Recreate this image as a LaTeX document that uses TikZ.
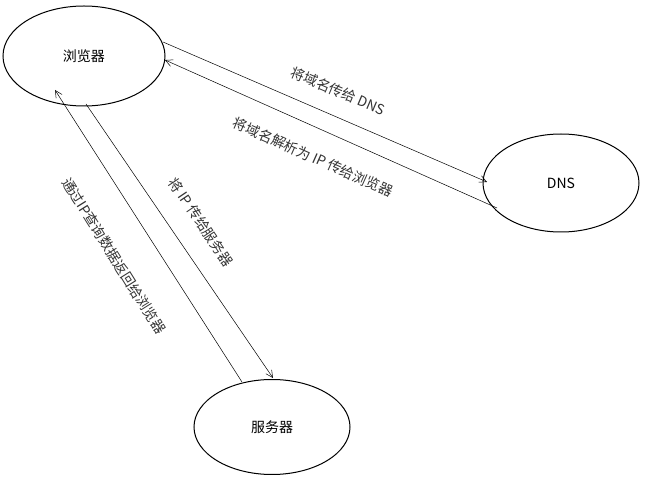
\documentclass[tikz,border=0pt]{standalone}
\usepackage{fontspec}
\setmainfont{Noto Sans CJK SC}
\usetikzlibrary{shapes.geometric,arrows.meta}
\begin{document}
\begin{tikzpicture}[x=1pt,y=-1pt,
  ell/.style={draw,ellipse,line width=1pt,inner sep=0pt,font=\fontsize{14}{16}\selectfont},
  conn/.style={-{Straight Barb[length=7pt,width=7pt]},line width=0.5pt},
  lbl/.style={font=\fontsize{14}{16}\selectfont,text=black!80}]
\useasboundingbox (0,0) rectangle (649,478);
\node[ell,minimum width=162,minimum height=100] (b) at (84,56) {浏览器};
\node[ell,minimum width=156,minimum height=98] (d) at (561,183) {DNS};
\node[ell,minimum width=156,minimum height=95] (s) at (272,427) {服务器};
\coordinate (b1) at (163,42); \coordinate (d1) at (487,182);
\coordinate (d2) at (497,208); \coordinate (b2) at (165,60);
\coordinate (b3) at (86,104); \coordinate (s3) at (273,378);
\coordinate (s4) at (242,382); \coordinate (b4) at (55,90);
\draw[conn] (b1) -- (d1);
\draw[conn] (d2) -- (b2);
\draw[conn] (b3) -- (s3);
\draw[conn] (s4) -- (b4);
\node[lbl,rotate=-23] (l1) at (338,91) {将域名传给 DNS};
\node[lbl,rotate=-24] (l2) at (313,157) {将域名解析为 IP 传给浏览器};
\node[lbl,rotate=-56] (l3) at (201,222) {将 IP 传给服务器};
\node[lbl,rotate=-58] (l4) at (114,256) {通过IP查询数据返回给浏览器};
\end{tikzpicture}
\end{document}
